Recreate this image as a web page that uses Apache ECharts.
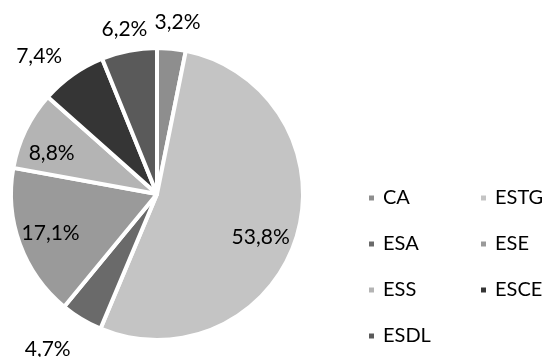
<!DOCTYPE html>
<html>
<head>
<meta charset="utf-8">
<style>
  html, body { margin: 0; padding: 0; background: #fff; }
  #chart { width: 544px; height: 357px; }
</style>
<script src="https://cdn.jsdelivr.net/npm/echarts@6/dist/echarts.min.js"></script>
</head>
<body>
<div id="chart"></div>
<script>
// Share of students per school (percent)
const schools = ['CA', 'ESTG', 'ESA', 'ESE', 'ESS', 'ESCE', 'ESDL'];
const shares = [3.2, 53.8, 4.7, 17.1, 8.8, 7.4, 6.2];

// Grey fill per school
const greys = ['#8e8e8e', '#c4c4c4', '#6a6a6a', '#9a9a9a', '#b4b4b4', '#353535', '#5a5a5a'];

// Nudges moving each label away from the default mid-radius spot
const labelNudge = [[13, -96], [31, 21], [-70, 90], [-35, 13], [-37, -7], [-74, -76], [-18, -90]];

const fontFamily = 'Lato, "Open Sans", sans-serif';

const chart = echarts.init(document.getElementById('chart'), null, { renderer: 'canvas' });

chart.setOption({
  animation: false,
  backgroundColor: '#fff',
  color: greys,
  legend: {
    left: 362,
    top: 175,
    width: 226,
    orient: 'horizontal',
    icon: 'rect',
    itemWidth: 7,
    itemHeight: 7,
    itemGap: 10,
    textStyle: {
      fontFamily: fontFamily,
      fontSize: 20,
      color: '#000',
      width: 86,
      lineHeight: 36,
      padding: [0, 0, 0, 3]
    },
    data: schools
  },
  series: [{
    type: 'pie',
    center: [157, 194],
    radius: [0, 146],
    startAngle: 90,
    clockwise: true,
    avoidLabelOverlap: false,
    itemStyle: { borderColor: '#fff', borderWidth: 4 },
    label: {
      show: true,
      position: 'inside',
      fontFamily: fontFamily,
      fontSize: 21,
      color: '#000',
      formatter: p => p.value.toFixed(1).replace('.', ',') + '%'
    },
    labelLine: { show: false },
    labelLayout: p => ({ dx: labelNudge[p.dataIndex][0], dy: labelNudge[p.dataIndex][1] }),
    emphasis: { disabled: true },
    data: schools.map((name, i) => ({ name: name, value: shares[i] }))
  }]
});
</script>
</body>
</html>
